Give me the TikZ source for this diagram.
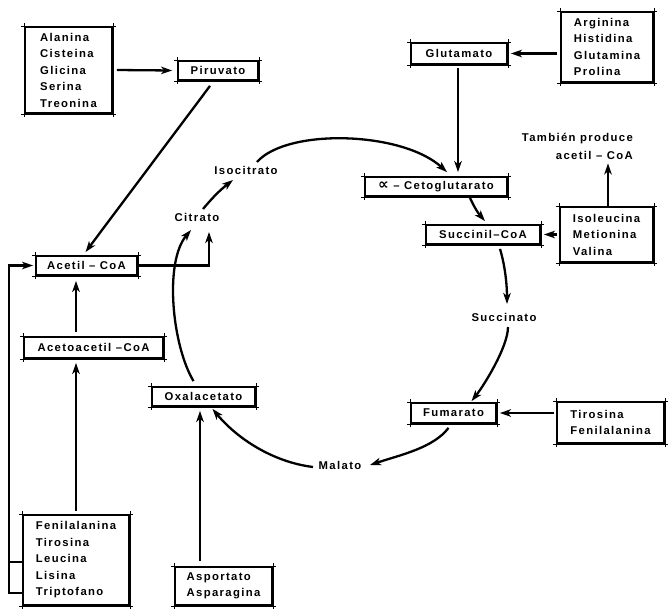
\documentclass[tikz,border=0pt]{standalone}
\usepackage{fontspec}
\setmainfont{Liberation Sans}[LetterSpace=12]
\newfontfamily\symfont{DejaVu Sans}
\usetikzlibrary{arrows.meta,calc}
\newcommand\lbl{\bfseries\fontsize{11.3}{16.5}\selectfont}
\begin{document}
\begin{tikzpicture}[x=1pt,y=-1pt,
  box/.style={draw, line width=1.8pt, inner sep=0pt, font=\lbl, align=left},
  txt/.style={inner sep=1pt, font=\lbl},
  arr/.style={line width=2.3pt, -{Stealth[length=11pt,width=7.5pt,inset=3pt]}},
  plain/.style={line width=2.3pt},
  tick/.style={line width=0.6pt}]
\useasboundingbox (0,0) rectangle (669,608);

% boxes
\node[box, minimum width=87pt, minimum height=86pt] (aa1) at (68.5,70) {Alanina\\Cisteina\\Glicina\\Serina\\Treonina};
\node[box, minimum width=80pt, minimum height=19pt] (piru) at (218,70.5) {Piruvato};
\node[box, minimum width=96pt, minimum height=21pt] (glut) at (459,53.5) {Glutamato};
\node[box, minimum width=92pt, minimum height=70pt] (aa2) at (607,47) {Arginina\\Histidina\\Glutamina\\Prolina};
\node[box, minimum width=142pt, minimum height=19pt] (ceto) at (436,186.5) {{\symfont\bfseries\fontsize{15}{15}\selectfont ∝} – Cetoglutarato};
\node[box, minimum width=114pt, minimum height=19pt] (succ) at (483,234.5) {Succinil–CoA};
\node[box, minimum width=93pt, minimum height=55pt] (aa3) at (606.5,234.5) {Isoleucina\\Metionina\\Valina};
\node[box, minimum width=85pt, minimum height=20pt] (fuma) at (453.5,413) {Fumarato};
\node[box, minimum width=107pt, minimum height=41pt] (aa4) at (610.5,422.5) {Tirosina\\Fenilalanina};
\node[box, minimum width=103pt, minimum height=19pt] (oxal) at (203.5,396.5) {Oxalacetato};
\node[box, minimum width=101pt, minimum height=19pt] (acet) at (86.5,265.5) {Acetil – CoA};
\node[box, minimum width=139pt, minimum height=21pt] (acac) at (93.5,347.5) {Acetoacetil –CoA};
\node[box, minimum width=106pt, minimum height=90pt] (aa5) at (76,560) {Fenilalanina\\Tirosina\\Leucina\\Lisina\\Triptofano};
\node[box, minimum width=97pt, minimum height=38pt] (aa6) at (223.5,586) {Asportato\\Asparagina};

% corner ticks
\foreach \n in {aa1,piru,glut,aa2,ceto,succ,aa3,fuma,aa4,oxal,acet,acac,aa5,aa6}{
  \draw[tick] ([xshift=-3pt]\n.north west) -- ([xshift=3pt]\n.north east);
  \draw[tick] ([xshift=-3pt]\n.south west) -- ([xshift=3pt]\n.south east);
  \draw[tick] ([yshift=3pt]\n.north west) -- ([yshift=-3pt]\n.south west);
  \draw[tick] ([yshift=3pt]\n.north east) -- ([yshift=-3pt]\n.south east);
}

% free texts
\node[txt] (isoc) at (246,170) {Isocitrato};
\node[txt] (citr) at (197,217) {Citrato};
\node[txt] (succinato) at (504,317) {Succinato};
\node[txt] (malato) at (340,465) {Malato};
\node[txt, anchor=east, align=right] (tamb) at (634,146) {También produce\\[1.5pt]acetil – CoA};

% feeder arrows
\draw[arr] ($(aa1.east)+(4,0)$) -- ($(piru.west)+(-5,0)$);
\draw[arr] ($(aa2.west)+(-3,6.5)$) -- ($(glut.east)+(3,0)$);
\draw[arr] ($(glut.south)+(-1,3)$) -- ($(ceto.north)+(22,-4)$);
\draw[arr] ($(aa3.west)+(-2,0)$) -- ($(succ.east)+(3,0)$);
\draw[arr, shorten >=3pt] ($(aa3.north)+(1.5,0)$) -- ($(aa3.north |- tamb.south)+(1.5,0)$);
\draw[arr] ($(aa4.west)+(-2,-9.5)$) -- ($(fuma.east)+(3,0)$);
\draw[arr] ($(piru.south)+(-8,5)$) -- ($(acet.north)+(-1,-3)$);
\draw[arr] ($(acac.north)+(-17.5,-4)$) -- ($(acet.south)+(-10.5,5)$);
\draw[arr] ($(aa5.north)+(0,-3)$) -- ($(acac.south)+(-17.5,4)$);
\draw[arr] ($(aa6.north)+(-23.5,-5)$) -- ($(oxal.south)+(-3.5,4)$);
\draw[arr] (acet.east) -| ($(citr.center)+(12,15)$);

% bracket from the lower-left box
\draw[plain] ($(aa5.west)+(0,2)$) -- ++(-13,0);
\draw[arr, shorten >=2pt] ($(aa5.west)+(0,33)$) -- ++(-13,0) |- (acet.west);

% cycle
\draw[arr] ($(citr.center)+(6,-8)$) to[bend left=6] ($(isoc.center)+(-13,10)$);
\draw[arr] ($(isoc.center)+(11,-8)$) .. controls +(30,-34) and +(-45,-41) .. ($(ceto.north)+(11,-4)$);
\draw[arr] ($(ceto.south)+(34,1)$) to[bend right=8] ($(succ.north)+(2,-3)$);
\draw[arr] ($(succ.south)+(17,4)$) .. controls +(6,20) and +(0,-15) .. ($(succinato.center)+(3,-13)$);
\draw[arr] ($(succinato.center)+(4,10)$) .. controls +(0,20) and +(12,-15) .. ($(fuma.north)+(18,-1)$);
\draw[arr] ($(fuma.south)+(-5,4)$) .. controls +(-15,20) and +(30,-10) .. ($(malato.center)+(30,0)$);
\draw[arr] ($(malato.center)+(-27,2)$) .. controls +(-40,-5) and +(25,30) .. ($(oxal.south)+(9,2)$);
\draw[arr] ($(oxal.north)+(-10,-5)$) .. controls (172,345) and (164,262) .. ($(citr.center)+(-6,13)$);
\end{tikzpicture}
\end{document}
